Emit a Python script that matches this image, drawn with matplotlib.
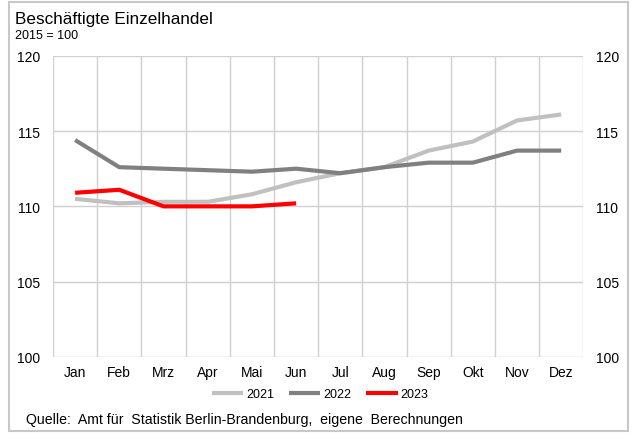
import matplotlib
matplotlib.use("Agg")
import matplotlib.pyplot as plt
from matplotlib.patches import Rectangle
from matplotlib.ticker import MultipleLocator, FixedLocator

plt.rcParams['font.family'] = ['Liberation Sans', 'DejaVu Sans']

# --- Daten (2015 = 100) ---
monate = ["Jan", "Feb", "Mrz", "Apr", "Mai", "Jun",
          "Jul", "Aug", "Sep", "Okt", "Nov", "Dez"]
werte_2021 = [110.5, 110.2, 110.3, 110.3, 110.8, 111.6,
              112.2, 112.6, 113.7, 114.3, 115.7, 116.1]
werte_2022 = [114.4, 112.6, 112.5, 112.4, 112.3, 112.5,
              112.2, 112.6, 112.9, 112.9, 113.7, 113.7]
werte_2023 = [110.9, 111.1, 110.0, 110.0, 110.0, 110.2]

W, H = 634, 435
fig = plt.figure(figsize=(W / 100, H / 100), dpi=100)

# Rahmen um die Grafik
fig.patches.append(Rectangle((9 / W, 3 / H), 619 / W, 429 / H,
                             transform=fig.transFigure, fill=False,
                             edgecolor="#c8c8c8", linewidth=1.5))

ax = fig.add_axes([53 / W, 1 - 358 / H, 530.3 / W, 301.3 / H])

x = list(range(len(monate)))
ax.plot(x, werte_2021, color="#c0c0c0", lw=3, label="2021", solid_capstyle="butt")
ax.plot(x, werte_2022, color="#808080", lw=3, label="2022", solid_capstyle="butt")
ax.plot(x[:len(werte_2023)], werte_2023, color="#ff0000", lw=3, label="2023",
        solid_capstyle="butt")

ax.set_xlim(-0.5, len(monate) - 0.5)
ax.set_ylim(100, 120)
ax.set_xticks(x)
ax.set_xticklabels(monate)
# senkrechte Gitterlinien zwischen den Monaten
ax.xaxis.set_minor_locator(FixedLocator([i - 0.5 for i in range(len(monate) + 1)]))
ax.yaxis.set_major_locator(MultipleLocator(5))

ax.grid(True, which="minor", axis="x", color="#d0d0d0", lw=1)
ax.grid(True, which="major", axis="y", color="#d0d0d0", lw=1)
ax.set_axisbelow(True)
for s in ax.spines.values():
    s.set_visible(False)

ax.tick_params(axis="x", which="both", length=0, pad=6, labelsize=10)
ax.tick_params(axis="y", which="both", length=0, pad=9, labelsize=10,
               labelright=True, right=False)

fig.text(15 / W, 1 - 24 / H, "Beschäftigte Einzelhandel", fontsize=12.3,
         ha="left", va="baseline")
fig.text(15 / W, 1 - 39.3 / H, "2015 = 100", fontsize=9,
         ha="left", va="baseline")

fig.legend(loc="center", bbox_to_anchor=(320 / W, 1 - 395 / H), ncol=3,
           frameon=False, fontsize=9, handlelength=2.5, handletextpad=0.25,
           columnspacing=1.2)

fig.text(26 / W, 1 - 420 / H,
         "Quelle:  Amt für  Statistik Berlin-Brandenburg,  eigene  Berechnungen",
         fontsize=10.2, ha="left", va="center")

fig.savefig("out.png", dpi=100)
